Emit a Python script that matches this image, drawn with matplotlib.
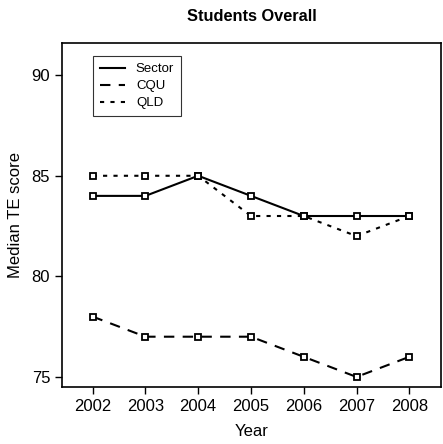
import matplotlib
matplotlib.use("Agg")
import matplotlib.pyplot as plt

plt.rcParams["font.family"] = ["Liberation Sans", "DejaVu Sans"]

years = [2002, 2003, 2004, 2005, 2006, 2007, 2008]
sector = [84, 84, 85, 84, 83, 83, 83]
cqu = [78, 77, 77, 77, 76, 75, 76]
qld = [85, 85, 85, 83, 83, 82, 83]

fig = plt.figure(figsize=(4.43, 4.44), dpi=100)
ax = fig.add_axes([62 / 443, 1 - 387 / 444, 379 / 443, 344 / 444])

mk = dict(marker="s", markersize=4, markerfacecolor="white", markeredgecolor="black",
          markeredgewidth=1.3, color="black", lw=1.5)
ax.plot(years, sector, ls="-", label="Sector", **mk)
ax.plot(years, cqu, ls=(0, (5, 4)), label="CQU", **mk)
ax.plot(years, qld, ls=(0, (2, 3)), label="QLD", **mk)

ax.set_xlim(2001.42, 2008.6)
ax.set_ylim(74.5, 91.6)
ax.set_xticks(years)
ax.set_yticks([75, 80, 85, 90])
ax.tick_params(labelsize=12, length=5, width=1, direction="out")
for s in ax.spines.values():
    s.set_linewidth(1.2)
ax.set_xlabel("Year", fontsize=12, labelpad=7)
ax.set_ylabel("Median TE score", fontsize=12, labelpad=6)
ax.set_title("Students Overall", fontsize=11.8, fontweight="bold", pad=16)

leg = ax.legend(loc="upper left", bbox_to_anchor=(31 / 379, 1 - 13 / 344), fontsize=9.5,
                frameon=True, fancybox=False, edgecolor="black", handlelength=1.9,
                borderpad=0.55, labelspacing=0.35, handletextpad=0.8, borderaxespad=0)
leg.get_frame().set_linewidth(0.8)
for h in leg.legend_handles:
    h.set_marker("")

fig.savefig("out.png", dpi=100)
